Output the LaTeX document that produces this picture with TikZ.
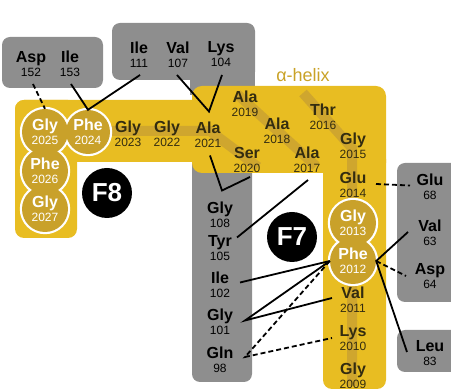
\documentclass[tikz,border=0pt]{standalone}
\usepackage{fontspec}
\setmainfont{Liberation Sans}
\usetikzlibrary{calc}
\definecolor{ye}{HTML}{E8BD22}
\definecolor{cf}{HTML}{C9A12A}
\definecolor{st}{HTML}{CFA62E}
\definecolor{gr}{HTML}{8E8E8E}
\definecolor{txt}{HTML}{332C10}
\definecolor{hel}{HTML}{C9A227}
\pgfdeclarelayer{bg}\pgfdeclarelayer{outl}\pgfsetlayers{bg,outl,main}
\newcommand\rname[1]{{\fontsize{16}{14}\selectfont\bfseries #1}}
\begin{document}
\begin{tikzpicture}[x=1pt,y=-1pt,
 resY/.style={align=center, inner sep=0pt, text=txt, font=\fontsize{12}{14}\selectfont},
 resG/.style={resY, text=black},
 resC/.style={resY, text=white, circle, fill=cf},
 fcirc/.style={circle, fill=black, text=white, minimum size=50pt, inner sep=0pt, font=\fontsize{26}{26}\selectfont\bfseries},
 link/.style={draw=black, line width=1.8pt},
 dlink/.style={link, dash pattern=on 5pt off 3pt}]
\useasboundingbox (0,0) rectangle (451,390);

% grey residues
\node[resG] (asp152) at (31,64) {\rname{Asp}\\152};
\node[resG] (ile153) at (70,64) {\rname{Ile}\\153};
\node[resG] (ile111) at (139,55) {\rname{Ile}\\111};
\node[resG] (val107) at (178,55) {\rname{Val}\\107};
\node[resG] (lys104) at (221,54) {\rname{Lys}\\104};
\node[resG] (g108) at (220,215) {\rname{Gly}\\108};
\node[resG] (t105) at (220,248) {\rname{Tyr}\\105};
\node[resG] (i102) at (220,285) {\rname{Ile}\\102};
\node[resG] (g101) at (220,322) {\rname{Gly}\\101};
\node[resG] (q98) at (220,360) {\rname{Gln}\\98};
\node[resG] (e68) at (430,187) {\rname{Glu}\\68};
\node[resG] (v63) at (430,233) {\rname{Val}\\63};
\node[resG] (d64) at (430,276) {\rname{Asp}\\64};
\node[resG] (l83) at (430,353) {\rname{Leu}\\83};

% yellow residues
\node[resY] (g2023) at (128,134) {\rname{Gly}\\2023};
\node[resY] (g2022) at (167,134) {\rname{Gly}\\2022};
\node[resY] (a2021) at (208,135) {\rname{Ala}\\2021};
\node[resY] (a2019) at (245,104) {\rname{Ala}\\2019};
\node[resY] (a2018) at (277,131) {\rname{Ala}\\2018};
\node[resY] (thr2016) at (323,117) {\rname{Thr}\\2016};
\node[resY] (s2020) at (247,160) {\rname{Ser}\\2020};
\node[resY] (a2017) at (307,160) {\rname{Ala}\\2017};
\node[resY] (g2015) at (353,146) {\rname{Gly}\\2015};
\node[resY] (e2014) at (353,185) {\rname{Glu}\\2014};
\node[resY] (v2011) at (353,300) {\rname{Val}\\2011};
\node[resY] (l2010) at (353,338) {\rname{Lys}\\2010};
\node[resY] (g2009) at (353,376) {\rname{Gly}\\2009};

% circled residues
\node[resC, minimum size=46pt] (c2025) at (45,132) {\rname{Gly}\\2025};
\node[resC, minimum size=44pt] (c2024) at (88,132) {\rname{Phe}\\2024};
\node[resC, minimum size=46pt] (c2026) at (45,171) {\rname{Phe}\\2026};
\node[resC, minimum size=46pt] (c2027) at (45,209) {\rname{Gly}\\2027};
\node[resC, minimum size=46pt] (c2013) at (353,223) {\rname{Gly}\\2013};
\node[resC, minimum size=46pt] (c2012) at (353,261) {\rname{Phe}\\2012};

\node[fcirc] (f8) at (107,193) {F8};
\node[fcirc] (f7) at (292,237) {F7};
\node[text=hel, font=\fontsize{18}{18}\selectfont] (helix) at (303,75) {α-helix};

\begin{pgfonlayer}{bg}
 \fill[gr, rounded corners=8pt] (2,37) rectangle (103,88);
 \fill[gr, rounded corners=8pt] (112,23) rectangle (255,80);
 \fill[gr] (190,60) rectangle (255,95);
 \fill[gr, rounded corners=8pt] (192,150) rectangle (252,382);
 \fill[gr, rounded corners=8pt] (397,163) rectangle (465,302);
 \fill[gr, rounded corners=8pt] (397,330) rectangle (465,372);
 \fill[ye, rounded corners=9pt] (15,100) rectangle (77,238);
 \fill[ye, rounded corners=9pt] (15,100) rectangle (205,162);
 \fill[ye, rounded corners=10pt] (192,86) rectangle (386,173);
 \fill[ye, rounded corners=9pt] (323,150) rectangle (386,389);
 \draw[st, line width=10pt] (45,234) -- (45,131) -- (210,131) -- (258,167);
 \draw[st, line width=10pt] (237,94) -- (316,166);
 \draw[st, line width=10pt] (303,93) -- (352,148) -- (352,386);
\end{pgfonlayer}
\begin{pgfonlayer}{outl}
 \foreach \c/\r in {c2025/23,c2024/22,c2026/23,c2027/23,c2013/23,c2012/23}
   \draw[white, line width=4.4pt] (\c) circle[radius=\r];
\end{pgfonlayer}

% connectors
\draw[dlink] ($(asp152)+(2,20)$) -- (c2025.north);
\draw[link] ($(ile153)+(1,20)$) -- (c2024.north) -- ($(ile111)+(1,20)$);
\draw[link] ($(val107)+(-1,20)$) -- ($(a2021)+(1,-23.5)$) -- ($(lys104)+(1,21)$);
\draw[link] ($(a2021)+(2,20.5)$) -- ($(g108)+(2,-24.5)$) -- ($(s2020)+(3,17)$);
\draw[link] ($(t105)+(17,-10.5)$) -- ($(a2017)+(1,20)$);
\draw[link] ($(i102)+(20,-2.5)$) -- (c2012.west);
\draw[link] (c2012.west) -- ($(g101)+(25,-1.5)$) -- ($(v2011)+(-21,-2)$);
\draw[dlink] (c2012.west) -- ($(q98)+(25,-3)$) -- ($(l2010)+(-21,0)$);
\draw[dlink] ($(e2014)+(23,-1)$) -- ($(e68)+(-20,-1.5)$);
\draw[link] ($(v63)+(-22,-1)$) -- (c2012.east) -- ($(l83)+(-23,-1)$);
\draw[dlink] (c2012.east) -- ($(d64)+(-24,0)$);
\end{tikzpicture}
\end{document}
